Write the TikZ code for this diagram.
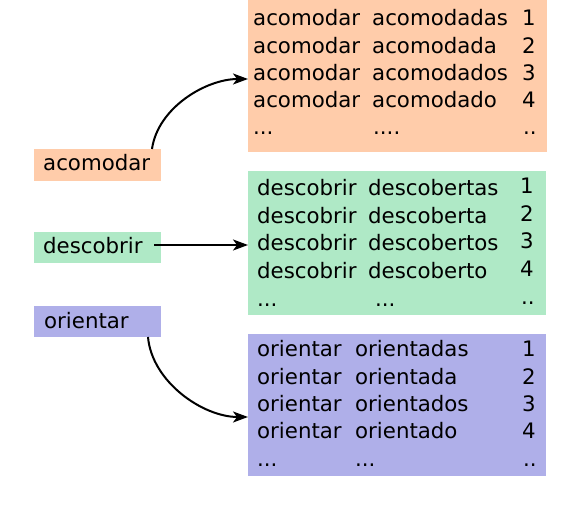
\documentclass[tikz,border=0pt]{standalone}
\usepackage{fontspec}
\setmainfont{DejaVu Sans}
\usetikzlibrary{arrows.meta}
\definecolor{orng}{RGB}{255,204,170}
\definecolor{grn}{RGB}{175,233,198}
\definecolor{prp}{RGB}{175,175,233}
\begin{document}
\begin{tikzpicture}[x=1pt,y=-1pt,
  box/.style={draw=none, inner sep=0pt, outer sep=0pt, anchor=north west},
  txt/.style={inner sep=0pt, anchor=base west, font=\fontsize{21.3}{25}\selectfont},
  arr/.style={-{Stealth[length=15pt,width=11pt,inset=4pt]}, line width=2pt}]
\useasboundingbox (0,0) rectangle (566,510);
% big boxes
\node[box, fill=orng, minimum width=299pt, minimum height=152pt] (A) at (248,0) {};
\node[box, fill=grn, minimum width=298pt, minimum height=144pt] (D) at (248,171) {};
\node[box, fill=prp, minimum width=298pt, minimum height=142pt] (O) at (248,334) {};
% small boxes
\node[box, fill=orng, minimum width=127pt, minimum height=32pt] (a) at (34,149) {};
\node[box, fill=grn, minimum width=127pt, minimum height=31pt] (d) at (34,232) {};
\node[box, fill=prp, minimum width=127pt, minimum height=31pt] (o) at (34,306) {};
\node[txt] (at) at (43,171) {acomodar};
\node[txt] (dt) at (43,254) {descobrir};
\node[txt] (ot) at (44,329) {orientar};
% orange table
\foreach \w/\n [count=\i from 0] in {acomodadas/1,acomodada/2,acomodados/3,acomodado/4}{
  \node[txt] (A-\i-1) at (253,26+27.3*\i) {acomodar};
  \node[txt] (A-\i-2) at (372,26+27.3*\i) {\w};
  \node[txt] (A-\i-3) at (522,26+27.3*\i) {\n};
}
\node[txt] (A-4-1) at (253,135) {...};
\node[txt] (A-4-2) at (373,135) {....};
\node[txt] (A-4-3) at (523,135) {..};
% green table
\foreach \w/\n [count=\i from 0] in {descobertas/1,descoberta/2,descobertos/3,descoberto/4}{
  \node[txt] (D-\i-1) at (257,196+27.5*\i) {descobrir};
  \node[txt] (D-\i-2) at (368,196+27.5*\i) {\w};
  \node[txt] (D-\i-3) at (520,194+27.5*\i) {\n};
}
\node[txt] (D-4-1) at (257,307) {...};
\node[txt] (D-4-2) at (375,307) {...};
\node[txt] (D-4-3) at (521,305) {..};
% purple table
\foreach \w/\n [count=\i from 0] in {orientadas/1,orientada/2,orientados/3,orientado/4}{
  \node[txt] (O-\i-1) at (257,357+27.2*\i) {orientar};
  \node[txt] (O-\i-2) at (355,357+27.2*\i) {\w};
  \node[txt] (O-\i-3) at (522,357+27.2*\i) {\n};
}
\node[txt] (O-4-1) at (257,467) {...};
\node[txt] (O-4-2) at (355,467) {...};
\node[txt] (O-4-3) at (523,467) {..};
% arrows
\draw[arr] ([xshift=-9pt]a.north east) to[out=82,in=180,looseness=0.9] ([yshift=-3pt]A.west);
\draw[arr] ([xshift=-7pt,yshift=2.5pt]d.east) coordinate (ds) -- (D.west |- ds);
\draw[arr] ([xshift=-13pt]o.south east) to[out=-85,in=180,looseness=0.9] ([yshift=-12pt]O.west);
\end{tikzpicture}
\end{document}
